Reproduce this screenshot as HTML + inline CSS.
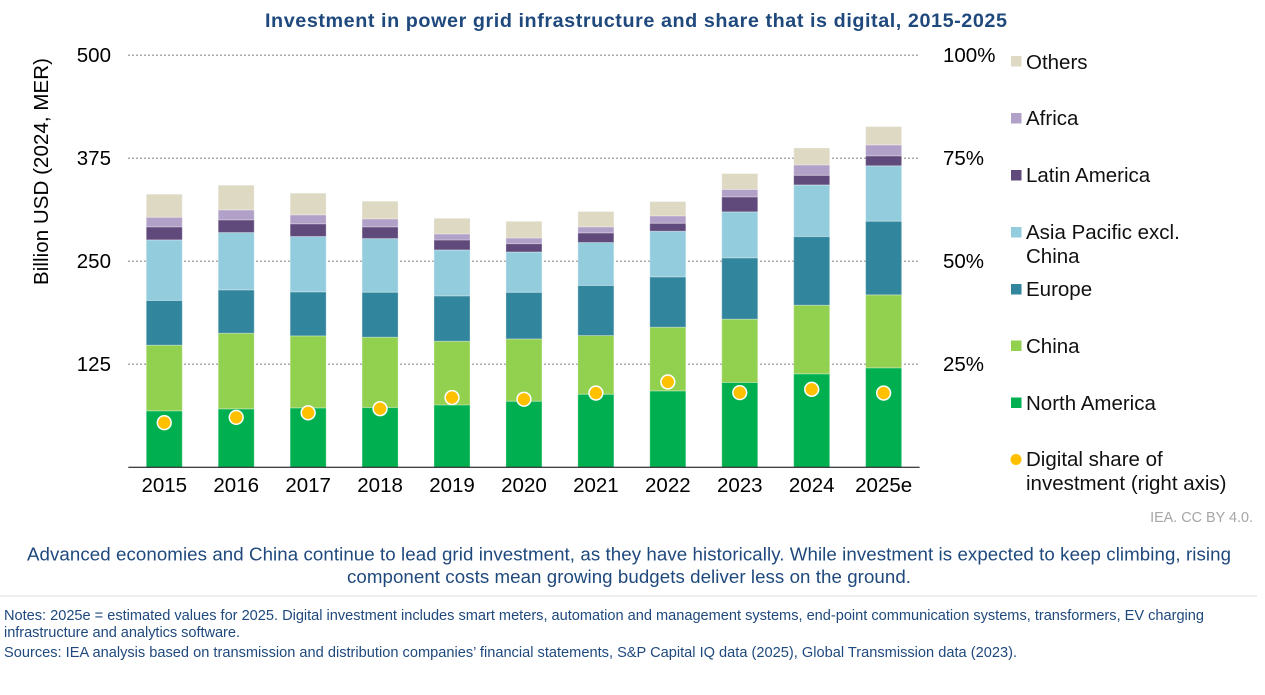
<!DOCTYPE html>
<html lang="en">
<head>
<meta charset="utf-8">
<title>Investment in power grid infrastructure and share that is digital, 2015-2025</title>
<style>
  html, body { margin: 0; padding: 0; background: #fff; }
  body { width: 1265px; height: 695px; overflow: hidden; }
  svg { display: block; font-family: "Liberation Sans", Arial, sans-serif; }
  .tick { font-size: 20.5px; fill: #000; }
  .legend { font-size: 20.5px; fill: #111; }
  .blue { fill: #1f497d; }
  .note { font-size: 14.6px; fill: #1f497d; }
  .cap { font-size: 18.7px; fill: #1f497d; }
</style>
</head>
<body>
<svg id="chart" width="1265" height="695" viewBox="0 0 1265 695" xmlns="http://www.w3.org/2000/svg">
  <text x="636" y="27" text-anchor="middle" font-size="19.8" font-weight="bold" class="blue" textLength="742" lengthAdjust="spacing">Investment in power grid infrastructure and share that is digital, 2015-2025</text>
  <text transform="translate(48,171.5) rotate(-90)" text-anchor="middle" class="tick" textLength="227" lengthAdjust="spacing">Billion USD (2024, MER)</text>

  <g id="grid"></g>
  <g id="bars"></g>
  <line x1="128.3" x2="919.6" y1="467.2" y2="467.2" stroke="#000" stroke-width="1"></line>
  <g id="points"></g>
  <g id="xlabels"></g>
  <g id="ylabels"></g>
  <g id="rlabels"></g>

  <g>
    <g>
      <rect x="1011" y="56" width="10.5" height="10.5" fill="#DDD9C3"></rect>
      <text class="legend" x="1026" y="69">Others</text>
    </g>
    <g>
      <rect x="1011" y="113" width="10.5" height="10.5" fill="#B1A0C7"></rect>
      <text class="legend" x="1026" y="125">Africa</text>
    </g>
    <g>
      <rect x="1011" y="170" width="10.5" height="10.5" fill="#604A7B"></rect>
      <text class="legend" x="1026" y="182">Latin America</text>
    </g>
    <g>
      <rect x="1011" y="227" width="10.5" height="10.5" fill="#93CDDD"></rect>
      <text class="legend" x="1026" y="239">Asia Pacific excl.</text>
      <text class="legend" x="1026" y="263">China</text>
    </g>
    <g>
      <rect x="1011" y="284" width="10.5" height="10.5" fill="#31859C"></rect>
      <text class="legend" x="1026" y="296">Europe</text>
    </g>
    <g>
      <rect x="1011" y="340.5" width="10.5" height="10.5" fill="#92D050"></rect>
      <text class="legend" x="1026" y="353">China</text>
    </g>
    <g>
      <rect x="1011" y="397.5" width="10.5" height="10.5" fill="#00B050"></rect>
      <text class="legend" x="1026" y="410">North America</text>
    </g>
    <g>
      <circle cx="1016" cy="459.5" r="5.5" fill="#FFC000"></circle>
      <text class="legend" x="1026" y="466">Digital share of</text>
      <text class="legend" x="1026" y="490">investment (right axis)</text>
    </g>
  </g>

  <text x="1253" y="522" text-anchor="end" font-size="14.4" fill="#a6a6a6">IEA. CC BY 4.0.</text>

  <g>
    <text class="cap" x="629" y="560.5" text-anchor="middle" textLength="1204" lengthAdjust="spacing">Advanced economies and China continue to lead grid investment, as they have historically. While investment is expected to keep climbing, rising</text>
    <text class="cap" x="629" y="583" text-anchor="middle" textLength="564" lengthAdjust="spacing">component costs mean growing budgets deliver less on the ground.</text>
  </g>
  <line x1="0" x2="1257" y1="596" y2="596" stroke="#dddddd" stroke-width="1"></line>
  <g>
    <text class="note" x="4" y="620" textLength="1200" lengthAdjust="spacing">Notes: 2025e = estimated values for 2025. Digital investment includes smart meters, automation and management systems, end-point communication systems, transformers, EV charging</text>
    <text class="note" x="4" y="637" textLength="236" lengthAdjust="spacing">infrastructure and analytics software.</text>
    <text class="note" x="4" y="657" textLength="1013" lengthAdjust="spacing">Sources: IEA analysis based on transmission and distribution companies’ financial statements, S&amp;P Capital IQ data (2025), Global Transmission data (2023).</text>
  </g>
</svg>
<script>
const years = ["2015","2016","2017","2018","2019","2020","2021","2022","2023","2024","2025e"];
const northAmerica = [68.4,70.8,72,72.4,75.6,80.1,88.6,92.6,102.8,113.3,120.6];
const china = [79.7,91.8,87.4,85.4,77.3,75.6,71.2,77.3,76.9,83.3,88.6];
const europe = [54.2,52.6,53.4,54.6,55,56.6,60.7,61.1,74.4,83.3,89.4];
const asiaPacific = [73.6,69.6,67.2,65.1,55.8,48.9,52.2,55.4,55.8,62.7,67.2];
const latinAmerica = [15.8,15.4,15.4,14.2,12.1,10.1,11.7,9.7,18.2,11.7,12.1];
const africa = [11.7,12.1,10.9,9.7,7.3,6.9,7.3,8.9,8.9,12.5,13.3];
const others = [27.9,29.9,26.3,21.4,19,20.2,18.6,17.4,19.4,20.6,22.2];
const digitalShare = [10.8,12.1,13.2,14.2,16.9,16.5,18,20.7,18.1,18.9,18];
const leftTicks = [125,250,375,500];
const rightTicks = [25,50,75,100];

const NS = "http://www.w3.org/2000/svg";
const plotLeft = 128.3, plotRight = 919.6, plotBottom = 467.2, plotTop = 55.2;
const leftMax = 500, rightMax = 100;
const yLeft = v => plotBottom - v / leftMax * (plotBottom - plotTop);
const yRight = v => plotBottom - v / rightMax * (plotBottom - plotTop);
const band = (plotRight - plotLeft) / years.length;
const xCenter = i => plotLeft + band * (i + 0.5);
const barWidth = 36;

function svgEl(tag, attrs, parent, text) {
  const el = document.createElementNS(NS, tag);
  for (const k in attrs) el.setAttribute(k, attrs[k]);
  if (text !== undefined) el.textContent = text;
  parent.appendChild(el);
  return el;
}

const gridG = document.getElementById("grid");
leftTicks.forEach(t => {
  const line = svgEl("line", {x1: plotLeft, x2: plotRight, y1: yLeft(t), y2: yLeft(t), stroke: "#8c8c8c", "stroke-width": 1.5, "stroke-dasharray": "1.5 2.5"}, gridG);
  
  
});

const ylG = document.getElementById("ylabels");
leftTicks.forEach(t => {
  const label = svgEl("text", {x: 111, y: yLeft(t) + 6.8, "text-anchor": "end", class: "tick"}, ylG, String(t));
  
  
});

const rlG = document.getElementById("rlabels");
rightTicks.forEach(t => {
  const label = svgEl("text", {x: 943, y: yRight(t) + 6.8, class: "tick"}, rlG, t + "%");
  
  
});

const stackSeries = [northAmerica, china, europe, asiaPacific, latinAmerica, africa, others];
const stackColors = ["#00B050","#92D050","#31859C","#93CDDD","#604A7B","#B1A0C7","#DDD9C3"];
const barsG = document.getElementById("bars");
const xlG = document.getElementById("xlabels");
years.forEach((year, i) => {
  let base = 0;
  stackSeries.forEach((series, s) => {
    const top = base + series[i];
    const seg = svgEl("rect", {
      x: xCenter(i) - barWidth / 2, y: yLeft(top), width: barWidth, height: yLeft(base) - yLeft(top),
      fill: stackColors[s], stroke: "#ffffff", "stroke-opacity": 0.3, "stroke-width": 1
    }, barsG);
    
    
    base = top;
  });
  const xl = svgEl("text", {x: xCenter(i), y: 492, "text-anchor": "middle", class: "tick"}, xlG, year);
  
  
});

const ptsG = document.getElementById("points");
digitalShare.forEach((v, i) => {
  const pt = svgEl("circle", {cx: xCenter(i), cy: yRight(v), r: 6.9, fill: "#FFC000", stroke: "#ffffff", "stroke-width": 1.5}, ptsG);
  
  
});
</script>
</body>
</html>
